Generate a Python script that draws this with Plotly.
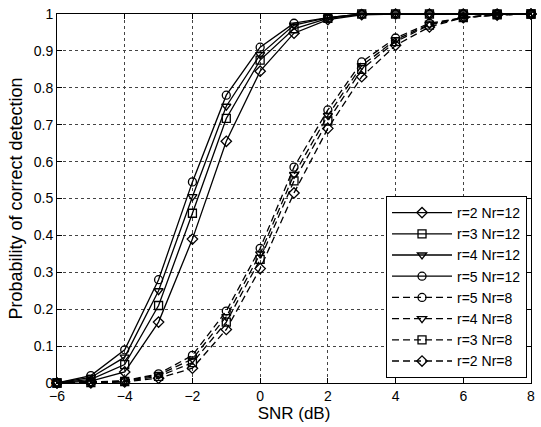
import plotly.graph_objects as go

snr = [-6, -5, -4, -3, -2, -1, 0, 1, 2, 3, 4, 5, 6, 7, 8]

r2_nr12 = [0.0, 0.005, 0.03, 0.165, 0.39, 0.655, 0.845, 0.948, 0.985, 0.998, 1, 1, 1, 1, 1]
r3_nr12 = [0.0, 0.01, 0.05, 0.21, 0.46, 0.717, 0.875, 0.96, 0.988, 1, 1, 1, 1, 1, 1]
r4_nr12 = [0.0, 0.015, 0.07, 0.25, 0.505, 0.75, 0.89, 0.97, 0.99, 1, 1, 1, 1, 1, 1]
r5_nr12 = [0.0, 0.02, 0.09, 0.28, 0.545, 0.78, 0.91, 0.975, 0.99, 1, 1, 1, 1, 1, 1]

r5_nr8 = [0.0, 0.002, 0.006, 0.025, 0.075, 0.195, 0.365, 0.585, 0.74, 0.87, 0.935, 0.975, 0.99, 1.0, 1.0]
r4_nr8 = [0.0, 0.001, 0.005, 0.022, 0.065, 0.18, 0.35, 0.565, 0.725, 0.86, 0.93, 0.972, 0.99, 0.998, 1.0]
r3_nr8 = [0.0, 0.001, 0.004, 0.018, 0.055, 0.165, 0.335, 0.548, 0.71, 0.85, 0.925, 0.97, 0.99, 0.998, 1.0]
r2_nr8 = [0.0, 0.0, 0.003, 0.013, 0.04, 0.145, 0.31, 0.515, 0.69, 0.83, 0.915, 0.965, 0.99, 0.997, 1.0]

x_ticks = [-6, -4, -2, 0, 2, 4, 6, 8]
x_tick_labels = ["\u22126", "\u22124", "\u22122", "0", "2", "4", "6", "8"]
y_ticks = [0, 0.1, 0.2, 0.3, 0.4, 0.5, 0.6, 0.7, 0.8, 0.9, 1]
y_tick_labels = ["0", "0.1", "0.2", "0.3", "0.4", "0.5", "0.6", "0.7", "0.8", "0.9", "1"]

series = [
    ("r=2 Nr=12", r2_nr12, "diamond-open", "solid"),
    ("r=3 Nr=12", r3_nr12, "square-open", "solid"),
    ("r=4 Nr=12", r4_nr12, "triangle-down-open", "solid"),
    ("r=5 Nr=12", r5_nr12, "circle-open", "solid"),
    ("r=5 Nr=8", r5_nr8, "circle-open", "dash"),
    ("r=4 Nr=8", r4_nr8, "triangle-down-open", "dash"),
    ("r=3 Nr=8", r3_nr8, "square-open", "dash"),
    ("r=2 Nr=8", r2_nr8, "diamond-open", "dash"),
]

fig = go.Figure()
for name, ys, sym, dash in series:
    fig.add_trace(go.Scatter(
        x=snr, y=ys, name=name, mode="lines+markers",
        line=dict(color="black", width=1.3, dash="7px,4px" if dash == "dash" else "solid"),
        marker=dict(symbol=sym, size=8, color="black", line=dict(width=1.3, color="black")),
        cliponaxis=False,
    ))

font = "Liberation Sans, Arial, sans-serif"
fig.update_layout(
    width=541, height=427,
    margin=dict(l=57, r=6, t=13, b=44),
    paper_bgcolor="white", plot_bgcolor="white",
    font=dict(family=font, size=14, color="black"),
    showlegend=True,
    legend=dict(x=0.9916, xanchor="right", y=0.0135, yanchor="bottom",
                bgcolor="white", bordercolor="black", borderwidth=1,
                font=dict(size=14), tracegroupgap=0, itemwidth=60),
    xaxis=dict(range=[-6, 8], tickvals=x_ticks, ticktext=x_tick_labels,
               ticks="inside", ticklen=5, tickcolor="black",
               ticklabeloverflow="allow",
               showline=True, linecolor="black", linewidth=1, mirror="ticks",
               showgrid=True, gridcolor="#444", griddash="dot", gridwidth=1,
               zeroline=False,
               title=dict(text="SNR (dB)", font=dict(size=17), standoff=4)),
    yaxis=dict(range=[0, 1], tickvals=y_ticks, ticktext=y_tick_labels,
               ticks="inside", ticklen=5, tickcolor="black",
               ticklabeloverflow="allow",
               showline=True, linecolor="black", linewidth=1, mirror="ticks",
               showgrid=True, gridcolor="#444", griddash="dot", gridwidth=1,
               zeroline=False,
               title=dict(text="Probability of correct detection", font=dict(size=18), standoff=6)),
)

# remove the default 8px page margin so the figure sits at the window's top-left corner
fig.write_html("out.html", config={"displayModeBar": False},
               post_script="document.body.style.margin='0';")
